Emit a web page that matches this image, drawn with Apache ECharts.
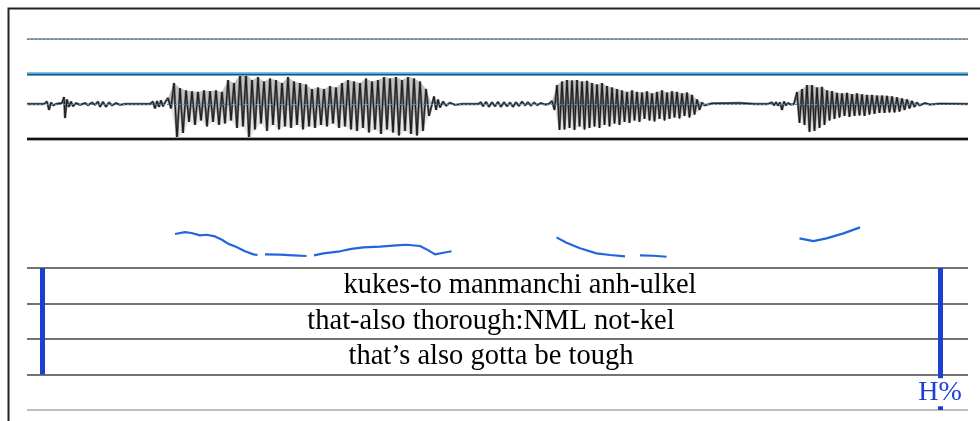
<!DOCTYPE html>
<html><head><meta charset="utf-8">
<script src="https://cdn.jsdelivr.net/npm/echarts@6/dist/echarts.min.js"></script>
<style>html,body{margin:0;padding:0;background:#fff}#c{width:980px;height:421px}</style>
</head><body><div id="c"></div>
<script>
// ---- data ----
const duration = 1.882; // seconds
// background / noise samples [time s, amplitude %]
const noiseSamples = [
 [0,0],[0.034,0],[0.040,8],[0.044,-20],[0.048,5],[0.052,-5],[0.058,0],[0.070,3],[0.074,23],[0.076,-47],
 [0.080,15],[0.084,-10],[0.088,8],[0.092,-8],[0.098,3],[0.106,-3],[0.116,3],[0.122,-4],[0.130,5],[0.136,-3],
 [0.142,8],[0.146,-10],[0.152,7],[0.158,-10],[0.164,5],[0.170,-5],[0.178,3],[0.186,-3],[0.196,0],[0.246,0],
 [0.252,8],[0.256,-15],[0.260,10],[0.264,-10],[0.268,12],[0.272,-8],[0.276,5],
 [0.814,25],[0.818,-20],[0.822,15],[0.826,-12],[0.832,8],[0.838,-6],[0.846,4],[0.856,-3],[0.870,0],[0.902,0],
 [0.908,6],[0.912,-8],[0.918,7],[0.924,-10],[0.930,6],[0.936,-8],[0.942,7],[0.948,-10],[0.954,6],[0.960,-8],
 [0.966,5],[0.972,-10],[0.978,6],[0.984,-7],[0.990,8],[0.996,-5],[1.002,6],[1.008,-6],[1.014,5],[1.020,-4],
 [1.028,3],[1.036,-2],[1.044,0],
 [1.370,2],[1.426,3],[1.456,0],[1.482,0],[1.490,5],[1.494,-5],[1.498,6],[1.502,-6],[1.506,5],[1.510,-20],
 [1.514,8],[1.518,-5],[1.522,3],[1.528,-2],[1.534,0],
 [1.796,3],[1.806,-2],[1.826,1],[1.882,0]
];
// voiced stretches: onset (s), glottal period (s), [positive peak, negative peak] per cycle (%)
const vowel1 = {onset:0.282, period:0.012, peaks:[
 [20,-15],[70,-117],[53,-97],[45,-60],[42,-70],[40,-55],[45,-75],[43,-60],[45,-70],[40,-65],
 [80,-55],[70,-80],[97,-75],[100,-117],[80,-85],[90,-65],[75,-90],[85,-70],[80,-85],[70,-75],
 [90,-80],[75,-70],[70,-85],[65,-75],[50,-80],[55,-70],[50,-75],[60,-65],[55,-80],[70,-75],
 [80,-85],[75,-90],[70,-80],[85,-95],[75,-85],[80,-100],[90,-85],[85,-95],[90,-105],[80,-90],
 [90,-100],[85,-105],[75,-90],[50,-40]]};
const vowel2 = {onset:1.05, period:0.010, peaks:[
 [10,-20],[63,-87],[75,-85],[80,-80],[78,-87],[80,-75],[75,-85],[77,-80],[70,-75],[65,-80],
 [70,-70],[60,-75],[55,-65],[50,-70],[45,-60],[40,-63],[45,-55],[40,-60],[38,-50],[42,-55],
 [35,-58],[40,-50],[45,-55],[38,-50],[42,-45],[40,-48],[35,-40],[38,-45],[30,-35],[15,-20],[5,-5]]};
const vowel3 = {onset:1.54, period:0.010, peaks:[
 [40,-63],[50,-70],[63,-93],[63,-90],[55,-80],[57,-70],[45,-55],[43,-50],[37,-45],[35,-40],
 [37,-43],[33,-40],[35,-38],[32,-40],[30,-35],[30,-33],[28,-30],[28,-30],[27,-28],[25,-28],
 [22,-25],[18,-20],[15,-15],[10,-10],[5,-5]]};
// pitch track (s, Hz), one array per voiced stretch
const pitch1 = [[0.296,155],[0.316,158],[0.329,156.5],[0.346,152.7],[0.359,153.7],[0.376,151],[0.389,146],[0.403,139],[0.419,134],[0.436,127],[0.453,122],[0.461,121]];
const pitch2 = [[0.476,122],[0.506,121.5],[0.533,120.5],[0.559,119.4]];
const pitch3 = [[0.574,120.5],[0.593,123.7],[0.626,127],[0.649,131],[0.673,133.4],[0.706,134.4],[0.739,136.6],[0.759,137.6],[0.786,135.5],[0.803,128.5],[0.816,122],[0.833,124.7],[0.849,127]];
const pitch4 = [[1.059,149.5],[1.079,140.8],[1.106,131.8],[1.139,123.7],[1.166,121],[1.196,118.9]];
const pitch5 = [[1.226,120.5],[1.253,119.8],[1.279,118.2]];
const pitch6 = [[1.545,147.9],[1.573,143.5],[1.599,147.9],[1.633,156],[1.666,165.6]];
const pitchMin = 100, pitchMax = 470;
// annotation tiers
const tierTexts = ['kukes-to manmanchi anh-ulkel', 'that-also thorough:NML not-kel', 'that\u2019s also gotta be tough'];
const tierTextTimes = [0.986, 0.928, 0.928];
const boundaryTimes = [0.03, 1.826];
const toneLabel = 'H%';
const toneTime = 1.826;

// ---- build ----
function expand(v){
  const out=[];
  v.peaks.forEach((p,i)=>{
    out.push([v.onset+i*v.period, p[0]]);
    out.push([v.onset+i*v.period+v.period/2, p[1]]);
  });
  return out;
}
function envelope(v, k){
  const out=[[v.onset-0.001,0]];
  v.peaks.forEach((p,i)=>out.push([v.onset+i*v.period+(k?v.period/2:0), p[k]]));
  out.push([v.onset+v.peaks.length*v.period,0]);
  return out;
}
const vowels=[vowel1,vowel2,vowel3];
const wave = noiseSamples.concat(...vowels.map(expand)).sort((a,b)=>a[0]-b[0]);

const blue = '#1c3fd2';
const chart = echarts.init(document.getElementById('c'), null, {renderer:'canvas'});
const xAx = i => ({type:'value', gridIndex:i, min:0, max:duration, show:false});
const pitchSeries = [pitch1,pitch2,pitch3,pitch4,pitch5,pitch6].map(d=>({
  type:'line', xAxisIndex:1, yAxisIndex:1, data:d, symbol:'none', smooth:false,
  lineStyle:{color:'#2266dd', width:2.2}, z:5
}));
pitchSeries[0].markLine = {silent:true, symbol:'none', label:{show:false}, animation:false,
  data:[{yAxis:pitchMax, lineStyle:{color:'#a0a0a0', width:2, type:'solid'}},
        {yAxis:pitchMax, lineStyle:{color:'#4a8ab8', width:1, type:[2,2]}}]};
const envSeries=[];
vowels.forEach(v=>[0,1].forEach(k=>envSeries.push({
  type:'line', xAxisIndex:0, yAxisIndex:0, data:envelope(v,k), symbol:'none', z:2,
  lineStyle:{width:0}, areaStyle:{color:'#9a9a9a', opacity:k?0.25:0.6, origin:0}
})));

chart.setOption({
  animation:false,
  grid:[
    {left:27, right:12, top:74, height:65},
    {left:27, right:12, top:39, height:229},
    {left:27, right:12, top:268, height:142}
  ],
  xAxis:[xAx(0), xAx(1), xAx(2)],
  yAxis:[
    {type:'value', gridIndex:0, min:-117, max:100, show:false},
    {type:'value', gridIndex:1, min:pitchMin, max:pitchMax, show:false},
    {type:'value', gridIndex:2, min:0, max:4, interval:1, inverse:true,
     axisLine:{show:false}, axisTick:{show:false}, axisLabel:{show:false},
     splitLine:{show:true, lineStyle:{color:['#444','#444','#444','#444','#aaa'], width:1.5}}}
  ],
  graphic:[{type:'rect', shape:{x:8.5, y:8.5, width:1200, height:800}, style:{fill:null, stroke:'#222', lineWidth:2}, silent:true}],
  series:[
    ...envSeries,
    {type:'line', xAxisIndex:0, yAxisIndex:0, data:wave, symbol:'none', sampling:null,
     lineStyle:{color:'#6a6a6a', width:2.4}, z:3},
    {type:'line', xAxisIndex:0, yAxisIndex:0, data:wave, symbol:'none', sampling:null,
     lineStyle:{color:'#111', width:0.9}, z:3,
     markLine:{silent:true, symbol:'none', label:{show:false}, animation:false, data:[
       {yAxis:100, lineStyle:{color:'#7cc4ea', width:4, type:'solid'}},
       {yAxis:100, lineStyle:{color:'#1f5577', width:1.4, type:'solid'}},
       {yAxis:-117, lineStyle:{color:'#a8a8a8', width:4, type:'solid'}},
       {yAxis:-117, lineStyle:{color:'#111', width:1.8, type:'solid'}},
       {yAxis:0, lineStyle:{color:'#3f8fc4', width:1, type:[2,2]}}
     ]}},
    ...pitchSeries,
    {type:'scatter', xAxisIndex:2, yAxisIndex:2, symbolSize:0.5, itemStyle:{color:'#fff', opacity:1},
     data: tierTexts.map((t,i)=>[tierTextTimes[i], i+0.5, t]),
     label:{show:true, position:'inside', formatter:p=>p.value[2], fontFamily:'Liberation Serif', fontSize:28.5,
            color:'#000', opacity:1, textBorderWidth:0},
     markLine:{silent:true, symbol:'none', label:{show:false}, animation:false,
       lineStyle:{color:blue, width:5, type:'solid', opacity:1},
       data:[
         [{coord:[boundaryTimes[0],0]},{coord:[boundaryTimes[0],3]}],
         [{coord:[boundaryTimes[1],0]},{coord:[boundaryTimes[1],4]}]
       ]}, z:4},
    {type:'scatter', xAxisIndex:2, yAxisIndex:2, symbolSize:0.5, itemStyle:{color:'#fff', opacity:1},
     data:[[toneTime, 3.5, toneLabel]], z:10,
     label:{show:true, position:'inside', formatter:p=>p.value[2], fontFamily:'Liberation Serif', fontSize:28,
            color:blue, opacity:1, textBorderWidth:0, backgroundColor:'#fff', padding:[0,1,0,1]}}
  ]
});
</script></body></html>
